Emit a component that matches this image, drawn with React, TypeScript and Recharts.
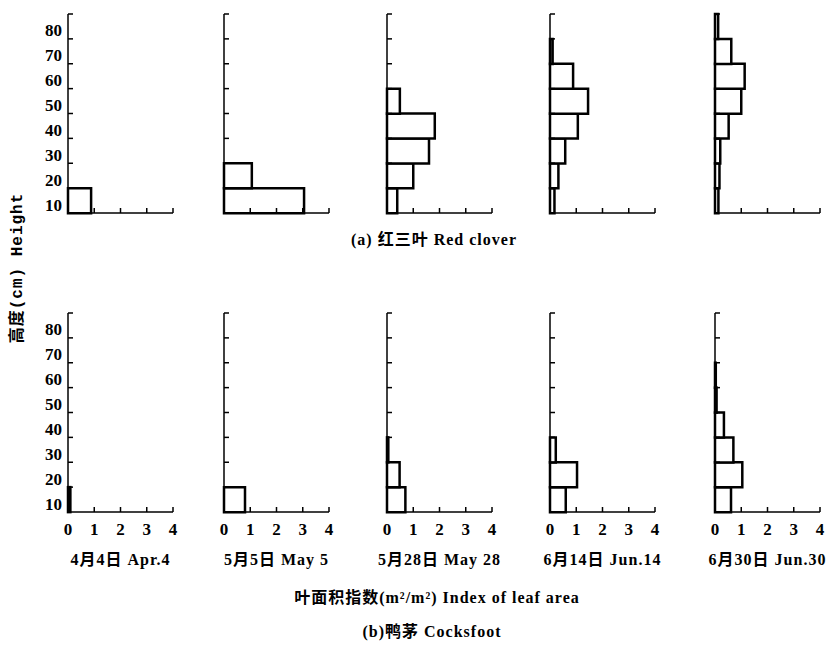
import { BarChart, Bar, XAxis, YAxis } from "recharts"

// height layers (cm), bottom to top; label = upper bound of the 10 cm layer
const HEIGHT_BINS = ["10", "20", "30", "40", "50", "60", "70", "80"]
const LAI_TICKS = [0, 1, 2, 3, 4]

const DATES = ["4月4日 Apr.4", "5月5日 May 5", "5月28日 May 28", "6月14日 Jun.14", "6月30日 Jun.30"]

// 红三叶 Red clover, leaf area index per layer
const CLOVER_APR4 = [0.88, 0, 0, 0, 0, 0, 0, 0]
const CLOVER_MAY5 = [3.05, 1.06, 0, 0, 0, 0, 0, 0]
const CLOVER_MAY28 = [0.39, 1.0, 1.6, 1.82, 0.49, 0, 0, 0]
const CLOVER_JUN14 = [0.17, 0.32, 0.58, 1.06, 1.45, 0.88, 0.1, 0]
const CLOVER_JUN30 = [0.13, 0.17, 0.2, 0.52, 1.0, 1.13, 0.62, 0.12]

// 鸭茅 Cocksfoot
const COCKS_APR4 = [0.09, 0, 0, 0, 0, 0, 0, 0]
const COCKS_MAY5 = [0.8, 0, 0, 0, 0, 0, 0, 0]
const COCKS_MAY28 = [0.7, 0.48, 0.05, 0, 0, 0, 0, 0]
const COCKS_JUN14 = [0.6, 1.03, 0.22, 0, 0, 0, 0, 0]
const COCKS_JUN30 = [0.61, 1.04, 0.7, 0.34, 0.06, 0.03, 0, 0]

const ROWS = [
    [CLOVER_APR4, CLOVER_MAY5, CLOVER_MAY28, CLOVER_JUN14, CLOVER_JUN30],
    [COCKS_APR4, COCKS_MAY5, COCKS_MAY28, COCKS_JUN14, COCKS_JUN30],
]

// layout
const COL_LEFT = [68, 224, 387, 550, 715]
const ROW_TOP = [14, 313]
const PLOT_W = 105
const PLOT_H = 199
const BAND = PLOT_H / HEIGHT_BINS.length
const Y_AXIS_W = 45
const X_AXIS_H = 30
const M = { top: 6, right: 10, bottom: 0, left: 0 }

const SERIF = '"Liberation Serif", "Noto Sans CJK SC", serif'
const MONO = '"Liberation Mono", "Noto Sans CJK SC", monospace'

function HeightTick(props: any) {
    const { x, y, payload, showLabel } = props
    const yb = y - BAND / 2
    return (
        <g>
            <line x1={x} x2={x + 5} y1={yb} y2={yb} stroke="#000" strokeWidth={1.5} />
            {showLabel && (
                <text x={x - 6} y={y + 10} textAnchor="end" fontFamily={SERIF} fontWeight="bold" fontSize={17} fill="#000">
                    {payload.value}
                </text>
            )}
        </g>
    )
}

function LaiTick(props: any) {
    const { x, y, payload, showLabel } = props
    return (
        <g>
            {payload.value !== 0 && <line x1={x} x2={x} y1={y} y2={y - 5} stroke="#000" strokeWidth={1.5} />}
            {showLabel && (
                <text x={x} y={y + 23} textAnchor="middle" fontFamily={SERIF} fontWeight="bold" fontSize={17} fill="#000">
                    {payload.value}
                </text>
            )}
        </g>
    )
}

function Panel({ values, row, col }: { values: number[]; row: number; col: number }) {
    const data = HEIGHT_BINS.map((bin, i) => ({ bin, lai: values[i] }))
    return (
        <div style={{ position: "absolute", left: COL_LEFT[col] - Y_AXIS_W, top: ROW_TOP[row] - M.top }}>
            <BarChart
                width={Y_AXIS_W + PLOT_W + M.right}
                height={M.top + PLOT_H + X_AXIS_H}
                data={data}
                layout="vertical"
                margin={M}
                barCategoryGap={0}
            >
                <XAxis
                    type="number"
                    domain={[0, 4]}
                    ticks={LAI_TICKS}
                    height={X_AXIS_H}
                    tickSize={0}
                    tickMargin={0}
                    tickLine={false}
                    axisLine={{ stroke: "#000", strokeWidth: 1.5 }}
                    tick={(p: any) => <LaiTick {...p} showLabel={row === 1} />}
                />
                <YAxis
                    type="category"
                    dataKey="bin"
                    reversed
                    width={Y_AXIS_W}
                    interval={0}
                    tickSize={0}
                    tickMargin={0}
                    tickLine={false}
                    axisLine={{ stroke: "#000", strokeWidth: 1.5 }}
                    tick={(p: any) => <HeightTick {...p} showLabel={col === 0} />}
                />
                <Bar dataKey="lai" fill="#fff" stroke="#000" strokeWidth={2.5} isAnimationActive={false} />
            </BarChart>
        </div>
    )
}

function Label({ text, cx, cy, size = 16 }: { text: string; cx: number; cy: number; size?: number }) {
    return (
        <div
            style={{
                position: "absolute", left: cx - 200, top: cy - 10, width: 400, height: 20,
                lineHeight: "20px", textAlign: "center", fontFamily: SERIF, fontSize: size,
                fontWeight: "bold", letterSpacing: 1, color: "#000", whiteSpace: "nowrap",
            }}
        >
            {text}
        </div>
    )
}

export default function App() {
    return (
        <div style={{ position: "absolute", left: 0, top: 0, width: 828, height: 648, background: "#fff", overflow: "hidden" }}>
            {ROWS.map((panels, r) => panels.map((v, c) => <Panel key={`${r}-${c}`} values={v} row={r} col={c} />))}
            <Label text="(a) 红三叶 Red clover" cx={434} cy={240} />
            {DATES.map((d, c) => (
                <Label key={d} text={d} cx={COL_LEFT[c] + PLOT_W / 2} cy={560} />
            ))}
            <Label text="叶面积指数(m²/m²) Index of leaf area" cx={437} cy={598} />
            <Label text="(b)鸭茅 Cocksfoot" cx={432} cy={632} />
            <div
                style={{
                    position: "absolute", left: 18 - 100, top: 268 - 10, width: 200, height: 20,
                    lineHeight: "20px", textAlign: "center", transform: "rotate(-90deg)",
                    fontFamily: MONO, fontWeight: "bold", fontSize: 16, letterSpacing: 1, whiteSpace: "nowrap",
                }}
            >
                高度(cm) Height
            </div>
        </div>
    )
}
